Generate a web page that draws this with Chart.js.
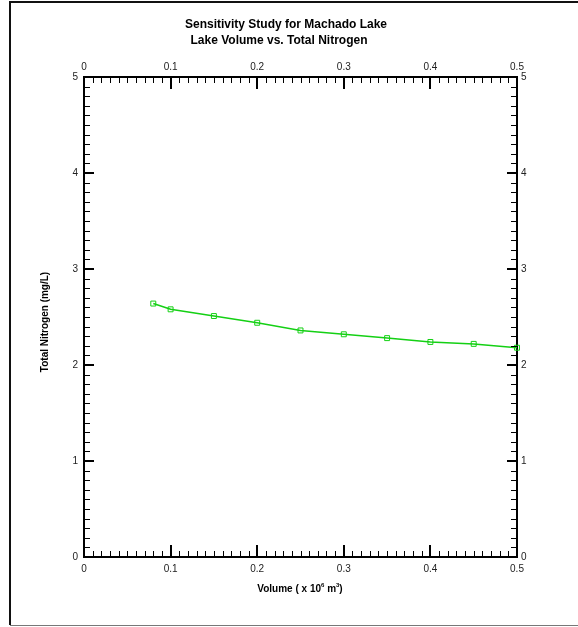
<!DOCTYPE html>
<html>
<head>
<meta charset="utf-8">
<script src="https://cdn.jsdelivr.net/npm/chart.js@4"></script>
<style>
html,body{margin:0;padding:0;background:#fff;}
canvas{display:block;}
</style>
</head>
<body>
<canvas id="c" width="578" height="627"></canvas>
<script>
// ---- data ----
const volume = [0.08, 0.1, 0.15, 0.2, 0.25, 0.3, 0.35, 0.4, 0.45, 0.5];
const totalNitrogen = [2.64, 2.58, 2.51, 2.44, 2.36, 2.32, 2.28, 2.24, 2.22, 2.18];
const titleLines = ["Sensitivity Study for Machado Lake", "Lake Volume vs. Total Nitrogen"];
const xTitle = "Volume ( x 10";
const yTitle = "Total Nitrogen (mg/L)";

const FONT = '"Liberation Sans", Arial, sans-serif';
const GREEN = '#14d014';

function fmt(v){ return String(Number(v.toFixed(2))); }

const tickFont = {family: FONT, size: 10};
const common = {
  grid: {drawOnChartArea: false, drawTicks: false},
  border: {display: true, color: '#000', width: 2},
};

const decorPlugin = {
  id: 'decor',
  afterDraw(chart){
    const ctx = chart.ctx;
    const xs = chart.scales.x, ys = chart.scales.y;
    const a = chart.chartArea;
    ctx.save();
    // inward ticks
    ctx.strokeStyle = '#000';
    for (let i = 1; i < 50; i++){
      const v = i / 100;
      const major = i % 10 === 0;
      const len = major ? 12 : 6;
      ctx.lineWidth = major ? 2 : 1;
      let px = xs.getPixelForValue(v);
      px = major ? Math.round(px) : Math.round(px) + 0.5;
      ctx.beginPath();
      ctx.moveTo(px, a.bottom); ctx.lineTo(px, a.bottom - len);
      ctx.moveTo(px, a.top); ctx.lineTo(px, a.top + len);
      ctx.stroke();
    }
    for (let i = 1; i < 50; i++){
      const v = i / 10;
      const major = i % 10 === 0;
      const len = major ? 10 : 6;
      ctx.lineWidth = major ? 2 : 1;
      let py = ys.getPixelForValue(v);
      py = major ? Math.round(py) : Math.round(py) + 0.5;
      ctx.beginPath();
      ctx.moveTo(a.left, py); ctx.lineTo(a.left + len, py);
      ctx.moveTo(a.right, py); ctx.lineTo(a.right - len, py);
      ctx.stroke();
    }
    // frame
    ctx.lineWidth = 2;
    ctx.strokeStyle = '#111';
    ctx.beginPath();
    ctx.moveTo(10, 625); ctx.lineTo(10, 2); ctx.lineTo(578, 2);
    ctx.stroke();
    ctx.lineWidth = 1;
    ctx.strokeStyle = '#777';
    ctx.beginPath();
    ctx.moveTo(10, 625.5); ctx.lineTo(578, 625.5);
    ctx.stroke();
    // titles
    ctx.fillStyle = '#000';
    ctx.textAlign = 'center';
    ctx.textBaseline = 'middle';
    ctx.font = 'bold 12px ' + FONT;
    ctx.fillText(titleLines[0], 286, 25);
    ctx.fillText(titleLines[1], 279, 41);
    // x axis title with superscripts
    const parts = [
      {t: xTitle, f: 'bold 10px ' + FONT, dy: 0},
      {t: '6', f: 'bold 6px ' + FONT, dy: -4},
      {t: ' m', f: 'bold 10px ' + FONT, dy: 0},
      {t: '3', f: 'bold 6px ' + FONT, dy: -4},
      {t: ')', f: 'bold 10px ' + FONT, dy: 0}
    ];
    let total = 0;
    parts.forEach(p => { ctx.font = p.f; p.w = ctx.measureText(p.t).width; total += p.w; });
    let x0 = 300 - total / 2;
    ctx.textAlign = 'left';
    parts.forEach(p => { ctx.font = p.f; ctx.fillText(p.t, x0, 589 + p.dy); x0 += p.w; });
    // y axis title
    ctx.translate(45, 322);
    ctx.rotate(-Math.PI / 2);
    ctx.textAlign = 'center';
    ctx.font = 'bold 10px ' + FONT;
    ctx.fillText(yTitle, 0, 0);
    ctx.restore();
  }
};

new Chart(document.getElementById('c'), {
  type: 'scatter',
  data: {
    datasets: [{
      data: volume.map((v, i) => ({x: v, y: totalNitrogen[i]})),
      showLine: true,
      borderColor: GREEN,
      borderWidth: 1.5,
      pointStyle: 'rect',
      pointRadius: 3.5,
      pointBorderWidth: 1,
      pointBorderColor: GREEN,
      pointBackgroundColor: 'rgba(0,0,0,0)',
      clip: false,
      xAxisID: 'x',
      yAxisID: 'y'
    }]
  },
  options: {
    responsive: false,
    animation: false,
    devicePixelRatio: 1,
    layout: {padding: 0, autoPadding: false},
    plugins: {legend: {display: false}, tooltip: {enabled: false}},
    scales: {
      x: Object.assign({}, common, {
        type: 'linear', position: 'bottom', min: 0, max: 0.5,
        ticks: {stepSize: 0.1, font: tickFont, color: '#222', padding: 6, maxRotation: 0, callback: v => fmt(v)},
        afterFit(s){ s.height = 70; }
      }),
      x2: Object.assign({}, common, {
        type: 'linear', position: 'top', min: 0, max: 0.5,
        ticks: {stepSize: 0.1, font: tickFont, color: '#222', padding: 4, maxRotation: 0, callback: v => fmt(v)},
        afterFit(s){ s.height = 77; }
      }),
      y: Object.assign({}, common, {
        type: 'linear', position: 'left', min: 0, max: 5,
        ticks: {stepSize: 1, font: tickFont, color: '#222', padding: 6, callback: v => fmt(v)},
        afterFit(s){ s.width = 84; }
      }),
      y2: Object.assign({}, common, {
        type: 'linear', position: 'right', min: 0, max: 5,
        ticks: {stepSize: 1, font: tickFont, color: '#222', padding: 4, callback: v => fmt(v)},
        afterFit(s){ s.width = 61; }
      })
    }
  },
  plugins: [decorPlugin]
});
</script>
</body>
</html>
